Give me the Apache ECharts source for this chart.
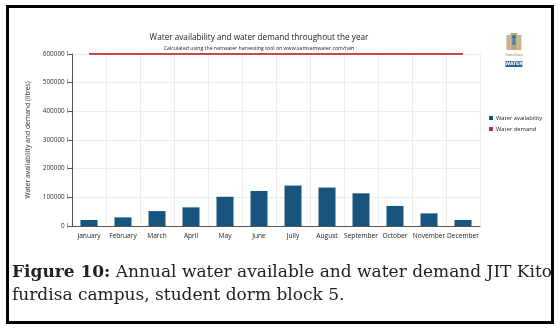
<!DOCTYPE html>
<html>
<head>
<meta charset="utf-8">
<script src="https://cdn.jsdelivr.net/npm/echarts@6/dist/echarts.min.js"></script>
<style>
  html, body { margin: 0; padding: 0; background: #fff; }
  #chart { width: 560px; height: 329px; }
</style>
</head>
<body>
<div id="chart"></div>
<script>
(function () {
    // months as printed on the original (incl. the "Jully" typo)
    var months = ['January', 'February', 'March', 'April', 'May', 'June',
        'Jully', 'August', 'September', 'October', 'November', 'December'];
    // litres per month
    var availability = [21000, 30000, 52000, 65000, 102000, 122000,
        141000, 134000, 114000, 70000, 44000, 21000];
    var demand = [600000, 600000, 600000, 600000, 600000, 600000,
        600000, 600000, 600000, 600000, 600000, 600000];

    var chart = echarts.init(document.getElementById('chart'));

    var sans = 'Open Sans';
    var axisGray = '#555';

    var option = {
        backgroundColor: '#fff',
        animation: false,
        title: [{
            text: 'Water availability and water demand throughout the year',
            left: 254,
            top: 29,
            textAlign: 'center',
            textStyle: {
                fontFamily: sans,
                fontSize: 8.2,
                fontWeight: 'normal',
                color: '#222'
            }
        }, {
            text: 'Calculated using the rainwater harvesting tool on www.samsamwater.com/rain',
            left: 254,
            top: 41,
            textAlign: 'center',
            textStyle: {
                fontFamily: sans,
                fontSize: 5.2,
                fontWeight: 'normal',
                color: '#222'
            }
        }],
        legend: {
            orient: 'vertical',
            left: 484,
            top: 110,
            itemWidth: 4,
            itemHeight: 4,
            itemGap: 5,
            icon: 'rect',
            textStyle: {
                fontFamily: sans,
                fontSize: 5.8,
                color: '#222',
                padding: [0, 0, 0, -2]
            },
            data: ['Water availability', 'Water demand']
        },
        grid: {
            left: 72,
            right: 80,
            top: 54,
            bottom: 103
        },
        xAxis: {
            type: 'category',
            data: months,
            axisLine: { lineStyle: { color: axisGray, width: 1 } },
            axisTick: { alignWithLabel: true, length: 3, lineStyle: { color: axisGray } },
            axisLabel: {
                fontFamily: sans,
                fontSize: 6.6,
                color: '#222',
                margin: 7,
                interval: 0
            },
            splitLine: {
                show: true,
                interval: 0,
                lineStyle: { color: '#ececec' }
            }
        },
        yAxis: {
            type: 'value',
            min: 0,
            max: 600000,
            interval: 100000,
            name: 'Water availability and demand (litres)',
            nameLocation: 'middle',
            nameGap: 38,
            nameTextStyle: {
                fontFamily: sans,
                fontSize: 6.8,
                color: '#333'
            },
            axisLine: { show: true, lineStyle: { color: axisGray, width: 1 } },
            axisTick: { show: true, length: 4, lineStyle: { color: axisGray } },
            axisLabel: {
                fontFamily: sans,
                fontSize: 6.4,
                color: '#333',
                margin: 4,
                formatter: function (v) { return v + ' l'; }
            },
            splitLine: { lineStyle: { color: '#ececec' } }
        },
        series: [{
            name: 'Water availability',
            type: 'bar',
            data: availability,
            barWidth: 17,
            itemStyle: { color: '#17557f' }
        }, {
            name: 'Water demand',
            type: 'line',
            data: demand,
            symbol: 'none',
            lineStyle: { color: '#c9484c', width: 2 },
            itemStyle: { color: '#b0304a' }
        }],
        graphic: [
            // figure frame
            {
                type: 'rect',
                shape: { x: 7.5, y: 6.5, width: 545, height: 316 },
                style: { fill: null, stroke: '#000', lineWidth: 3 },
                z: 100
            },
            // small SamSam Water logo
            {
                type: 'group',
                left: 505,
                top: 33,
                children: [
                    { type: 'rect', shape: { x: 1, y: 4, width: 4, height: 15 }, style: { fill: '#c9b48a' } },
                    { type: 'rect', shape: { x: 12, y: 4, width: 4, height: 15 }, style: { fill: '#c9b48a' } },
                    { type: 'rect', shape: { x: 5, y: 2, width: 7, height: 17 }, style: { fill: '#bfa77a' } },
                    { type: 'circle', shape: { cx: 8.5, cy: 6, r: 2 }, style: { fill: '#2d6fa8' } },
                    { type: 'rect', shape: { x: 7, y: 8, width: 3, height: 6 }, style: { fill: '#3a80b8' } },
                    {
                        type: 'text',
                        style: {
                            x: 8.5, y: 21, text: 'SamSam', align: 'center',
                            font: '5px "Liberation Serif"', fill: '#a88d5c'
                        }
                    },
                    { type: 'rect', shape: { x: 0, y: 30, width: 17, height: 6 }, style: { fill: '#2667a0' } },
                    {
                        type: 'text',
                        style: {
                            x: 8.5, y: 30.5, text: 'WATER', align: 'center',
                            font: 'bold 4.5px "DejaVu Sans"', fill: '#fff'
                        }
                    }
                ]
            },
            // caption under the chart
            {
                type: 'text',
                left: 12,
                top: 261,
                style: {
                    text: '{b|Figure 10:} Annual water available and water demand JIT Kito\nfurdisa campus, student dorm block 5.',
                    font: '17px "DejaVu Serif"',
                    fill: '#222',
                    lineHeight: 23,
                    rich: {
                        b: { fontWeight: 'bold', fontSize: 17, fontFamily: 'DejaVu Serif', fill: '#222' }
                    }
                }
            }
        ]
    };

    chart.setOption(option);
})();
</script>
</body>
</html>
